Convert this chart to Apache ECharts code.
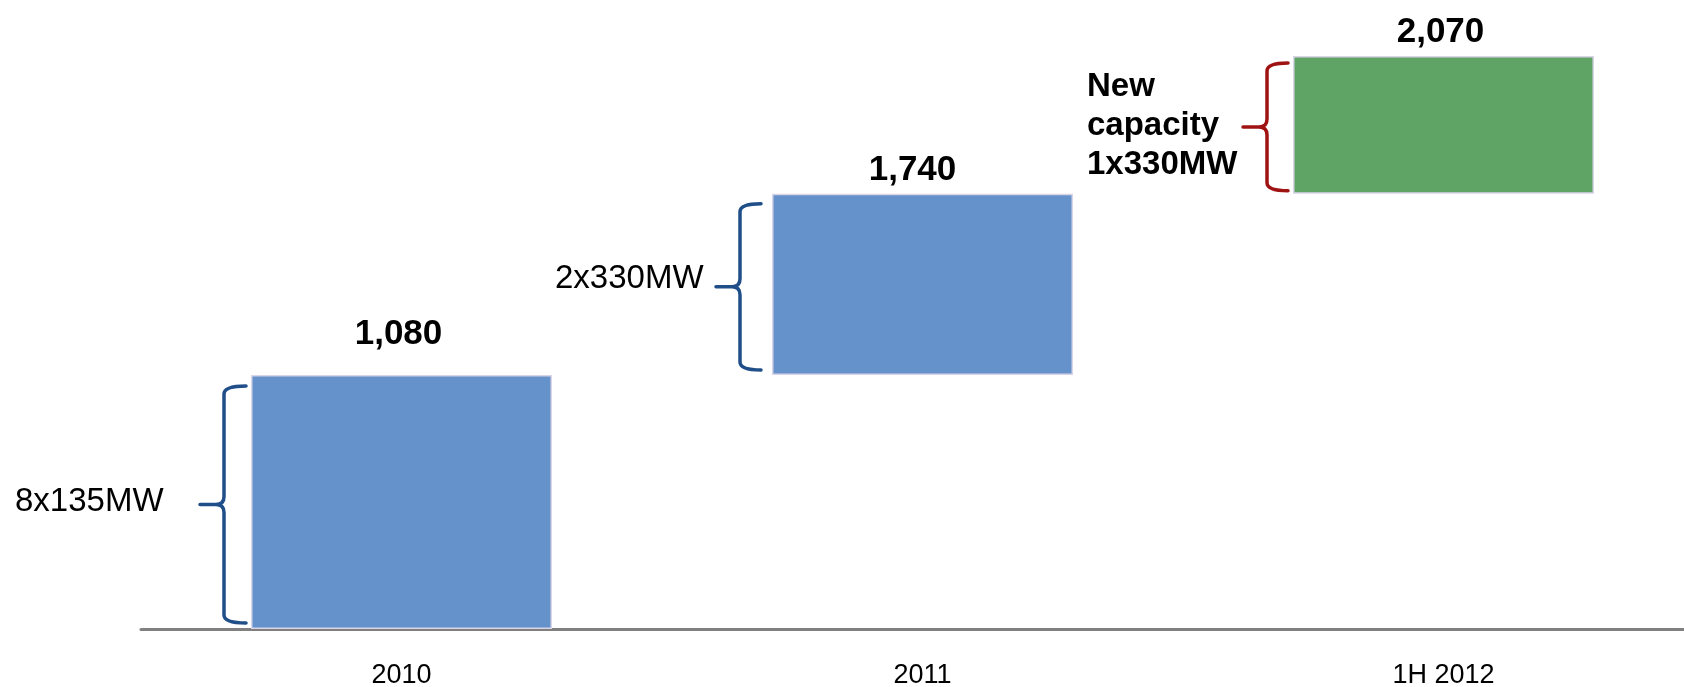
<!DOCTYPE html>
<html><head><meta charset="utf-8">
<script src="https://cdn.jsdelivr.net/npm/echarts@6/dist/echarts.min.js"></script>
<style>html,body{margin:0;padding:0;background:#fff}#c{width:1684px;height:687px}</style>
</head><body><div id="c"></div>
<script>
// ---- data ----
const categories = ['2010', '2011', '1H 2012'];
const totals = [1080, 1740, 2070];            // printed cumulative capacity (MW)
// drawn extent of each floating bar on the hidden (not-to-scale) value axis
const barBase = [0, 1080, 1850];
const barTop = [1080, 1850, 2435];
const braceNotes = ['8x135MW', '2x330MW', 'New\ncapacity\n1x330MW'];
const yMax = 2550;

// ---- styling ----
const FONT = '"Liberation Sans", Arial, sans-serif';
const barColors = ['#6592CB', '#6592CB', '#5FA464'];
const braceColors = ['#1F4E89', '#1F4E89', '#A01313'];
const braceStyle = [
  {vGap: 27, endGap: 5, insetTop: 11, insetBot: 6, noteDx: 185, noteDy: -3, bold: false},
  {vGap: 32, endGap: 11, insetTop: 10, insetBot: 5, noteDx: 161, noteDy: -8, bold: false},
  {vGap: 26, endGap: 5, insetTop: 7, insetBot: 3, noteDx: 156, noteDy: -1, bold: true}
];
const labelStyle = [
  {distance: 23, dx: -3},
  {distance: 5, dx: -10},
  {distance: 6, dx: -3}
];
const BAR_W = 301;

const chart = echarts.init(document.getElementById('c'), null, {renderer: 'canvas'});

const baseData = barBase.map(v => v);
const riseData = barTop.map((t, i) => ({
  value: t - barBase[i],
  itemStyle: {color: barColors[i]},
  label: {distance: labelStyle[i].distance, offset: [labelStyle[i].dx, 0]}
}));
const braceData = categories.map((c, i) => [i, barBase[i], barTop[i]]);

const option = {
  animation: false,
  backgroundColor: '#ffffff',
  textStyle: {fontFamily: FONT},
  grid: {left: 141, width: 1563, top: 29, bottom: 58, containLabel: false, outerBoundsMode: 'none'},
  xAxis: {
    type: 'category',
    data: categories,
    axisLine: {lineStyle: {color: '#808080', width: 3}},
    axisTick: {show: false},
    axisLabel: {fontSize: 27, color: '#000', margin: 33, fontFamily: FONT}
  },
  yAxis: {type: 'value', min: 0, max: yMax, show: false, splitLine: {show: false}},
  series: [
    {
      type: 'bar', stack: 'w', data: baseData, barWidth: BAR_W,
      itemStyle: {color: 'transparent'}, silent: true
    },
    {
      type: 'bar', stack: 'w', data: riseData, barWidth: BAR_W,
      itemStyle: {borderColor: '#D9D4E8', borderWidth: 1.5},
      label: {
        show: true, position: 'top', color: '#000', fontWeight: 'bold',
        fontSize: 35, lineHeight: 36, fontFamily: FONT,
        formatter: p => totals[p.dataIndex].toLocaleString('en-US')
      }
    },
    {
      type: 'custom', clip: false, silent: true,
      data: braceData,
      encode: {x: 0, y: [1, 2]},
      renderItem: function (params, api) {
        const i = api.value(0);
        const s = braceStyle[i];
        const pTop = api.coord([i, api.value(2)]);
        const pBot = api.coord([i, api.value(1)]);
        const barLeft = pTop[0] - BAR_W / 2;
        const xV = barLeft - s.vGap;
        const xEnd = barLeft - s.endGap;
        const xTip = xV - 24;
        const yT = pTop[1] + s.insetTop;
        const yB = pBot[1] - s.insetBot;
        const yM = (yT + yB) / 2;
        const r = 8;
        const d = `M${xEnd} ${yT} Q${xV} ${yT} ${xV} ${yT + r} L${xV} ${yM - r} Q${xV} ${yM} ${xV - r} ${yM} L${xTip} ${yM} ` +
                  `M${xV - r} ${yM} Q${xV} ${yM} ${xV} ${yM + r} L${xV} ${yB - r} Q${xV} ${yB} ${xEnd} ${yB}`;
        return {
          type: 'group',
          children: [
            {type: 'path', shape: {pathData: d},
             style: {stroke: braceColors[i], fill: 'none', lineWidth: 3.5, lineCap: 'round', lineJoin: 'round'}},
            {type: 'text', x: xTip - s.noteDx, y: yM + s.noteDy,
             style: {text: braceNotes[i], fill: '#000', align: 'left', verticalAlign: 'middle',
                     font: (s.bold ? 'bold ' : '') + '33px ' + FONT, lineHeight: 39}}
          ]
        };
      }
    }
  ]
};
chart.setOption(option);
</script>
</body></html>
